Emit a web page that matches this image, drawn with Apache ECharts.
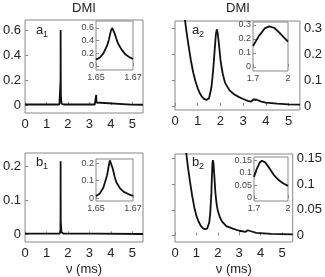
<!DOCTYPE html>
<html>
<head>
<meta charset="utf-8">
<script src="https://cdn.jsdelivr.net/npm/echarts@6/dist/echarts.min.js"></script>
<style>
    html, body { margin: 0; padding: 0; background: #fff; }
    #chart { width: 325px; height: 277px; }
</style>
</head>
<body>
<div id="chart"></div>
<script>
// 数据
var titles = ['DMI', 'DMI'];
var xTicks = [0, 1, 2, 3, 4, 5];
var xName = 'ν (ms)';

var a1Ticks = [0, 0.2, 0.4, 0.6];
var a2Ticks = [0, 0.1, 0.2, 0.3];
var b1Ticks = [0, 0.1, 0.2];
var b2Ticks = [0, 0.05, 0.1, 0.15];

var insetA1XTicks = [1.65, 1.67];
var insetA1YTicks = [0, 0.2, 0.4, 0.6];
var insetA2XTicks = [1.7, 2];
var insetA2YTicks = [0, 0.1, 0.2, 0.3];
var insetB1YTicks = [0, 0.1, 0.2];
var insetB2YTicks = [0, 0.05, 0.1, 0.15];

var a1Main = [[0, 0.004], [1.6, 0.004], [1.65, 0.02], [1.655, 0.2], [1.6587, 0.6], [1.663, 0.3], [1.67, 0.08],
    [1.7, 0.01], [1.8, 0.004], [3.25, 0.004], [3.3, 0.02], [3.317, 0.08], [3.33, 0.02], [3.38, 0.004],
    [4.94, 0.003], [4.975, 0.015], [5.0, 0.003], [5.5, 0.002]];
var b1Main = [[0, 0.002], [1.62, 0.002], [1.65, 0.012], [1.655, 0.06], [1.6575, 0.215], [1.66, 0.12],
    [1.665, 0.035], [1.7, 0.006], [1.8, 0.002], [3.3, 0.002], [3.32, 0.004], [3.34, 0.002], [5.5, 0.001]];
var a2Main = [[0.3, 0.5], [0.44, 0.33], [0.5, 0.29], [0.6, 0.23], [0.7, 0.175], [0.8, 0.13], [0.9, 0.095],
    [1.0, 0.068], [1.1, 0.048], [1.2, 0.034], [1.3, 0.026], [1.4, 0.024], [1.5, 0.03], [1.6, 0.07],
    [1.65, 0.11], [1.7, 0.16], [1.75, 0.22], [1.8, 0.275], [1.84, 0.295], [1.88, 0.28], [1.92, 0.25],
    [1.96, 0.215], [2.0, 0.18], [2.05, 0.15], [2.1, 0.125], [2.2, 0.09], [2.4, 0.06], [2.6, 0.045],
    [2.8, 0.035], [3.0, 0.027], [3.2, 0.02], [3.35, 0.017], [3.45, 0.025], [3.52, 0.028], [3.6, 0.024],
    [3.8, 0.017], [4.0, 0.013], [4.5, 0.009], [5.0, 0.006], [5.5, 0.005]];
var b2Main = [[0.4, 0.21], [0.5, 0.17], [0.6, 0.135], [0.7, 0.105], [0.8, 0.078], [0.9, 0.055], [1.0, 0.038],
    [1.1, 0.027], [1.2, 0.019], [1.3, 0.014], [1.4, 0.012], [1.5, 0.013], [1.6, 0.025], [1.65, 0.045],
    [1.7, 0.083], [1.72, 0.11], [1.75, 0.14], [1.77, 0.147], [1.8, 0.14], [1.84, 0.115], [1.88, 0.088],
    [1.92, 0.07], [1.96, 0.057], [2.0, 0.048], [2.1, 0.035], [2.2, 0.027], [2.4, 0.018], [2.7, 0.013],
    [3.0, 0.009], [3.3, 0.007], [3.4, 0.01], [3.45, 0.011], [3.55, 0.008], [3.8, 0.005], [4.5, 0.003], [5.5, 0.002]];

var a1Inset = [[1.65, 0.1], [1.652, 0.13], [1.654, 0.2], [1.656, 0.32], [1.657, 0.42], [1.658, 0.55],
    [1.6587, 0.6], [1.6595, 0.58], [1.66, 0.52], [1.661, 0.43], [1.662, 0.35], [1.664, 0.25],
    [1.666, 0.18], [1.668, 0.14], [1.67, 0.11]];
var a2Inset = [[1.7, 0.15], [1.75, 0.22], [1.8, 0.275], [1.84, 0.29], [1.88, 0.28], [1.92, 0.25],
    [1.96, 0.215], [2.0, 0.18]];
var b1Inset = [[1.65, 0.012], [1.652, 0.025], [1.654, 0.06], [1.656, 0.13], [1.657, 0.19], [1.6575, 0.215],
    [1.658, 0.21], [1.659, 0.17], [1.66, 0.125], [1.661, 0.09], [1.663, 0.055], [1.665, 0.035],
    [1.668, 0.02], [1.67, 0.013]];
var b2Inset = [[1.7, 0.083], [1.72, 0.11], [1.75, 0.14], [1.77, 0.147], [1.8, 0.14], [1.84, 0.115],
    [1.88, 0.088], [1.92, 0.07], [1.96, 0.057], [2.0, 0.048]];

var FONT = "'Liberation Sans', Arial, sans-serif";
var grids = [], xAxes = [], yAxes = [], series = [];

function fmt(v) {
    return String(+(+v).toFixed(3));
}

/**
 * 添加一个坐标系 + 曲线
 */
function addPanel(p) {
    var i = grids.length;
    var small = !!p.inset;
    var fs = small ? 9 : 13;
    var col = small ? '#444' : '#222';
    grids.push({
        left: p.box[0], top: p.box[1], width: p.box[2], height: p.box[3],
        show: true, borderColor: '#888', borderWidth: 1,
        backgroundColor: '#fff', z: small ? 5 : 0
    });
    xAxes.push({
        gridIndex: i, type: 'value', min: p.x[0], max: p.x[1], z: small ? 6 : 0,
        axisLine: {show: false}, splitLine: {show: false},
        axisTick: {inside: true, length: 3, lineStyle: {color: '#888'}, customValues: p.xTicks},
        axisLabel: {customValues: p.xTicks, fontSize: fs, color: col, fontFamily: FONT, margin: small ? 3 : 5, formatter: fmt},
        name: p.xName || '', nameLocation: 'middle', nameGap: 21,
        nameTextStyle: {fontSize: 13, color: '#222', fontFamily: FONT}
    });
    yAxes.push({
        gridIndex: i, type: 'value', min: p.y[0], max: p.y[1], position: p.right ? 'right' : 'left', z: small ? 6 : 0,
        axisLine: {show: false}, splitLine: {show: false},
        axisTick: {inside: true, length: 3, lineStyle: {color: '#888'}, customValues: p.yTicks},
        axisLabel: {customValues: p.yTicks, fontSize: fs, color: col, fontFamily: FONT, margin: small ? 2 : 4, formatter: fmt}
    });
    series.push({
        type: 'line', xAxisIndex: i, yAxisIndex: i, data: p.data, showSymbol: false,
        clip: true, z: small ? 7 : 2, silent: true,
        lineStyle: {color: '#111', width: small ? 1.8 : 1.8}
    });
}

addPanel({box: [21, 20, 122, 93], x: [0, 5.5], y: [-0.064, 0.68], xTicks: xTicks, yTicks: a1Ticks, data: a1Main});
addPanel({box: [175, 21, 125, 89], x: [0, 5.5], y: [-0.0154, 0.327], xTicks: xTicks, yTicks: a2Ticks, data: a2Main, right: true});
addPanel({box: [21, 153, 122, 93], x: [0, 5.5], y: [-0.0225, 0.239], xTicks: xTicks, yTicks: b1Ticks, data: b1Main, xName: xName});
addPanel({box: [175, 154, 125, 92], x: [0, 5.5], y: [-0.013, 0.159], xTicks: xTicks, yTicks: b2Ticks, data: b2Main, right: true, xName: xName});

addPanel({box: [96, 21, 37, 49], x: [1.65, 1.67], y: [-0.063, 0.71], xTicks: insetA1XTicks, yTicks: insetA1YTicks, data: a1Inset, inset: true});
addPanel({box: [253, 22, 35, 49], x: [1.7, 2], y: [-0.029, 0.321], xTicks: insetA2XTicks, yTicks: insetA2YTicks, data: a2Inset, inset: true});
addPanel({box: [96, 159, 37, 42], x: [1.65, 1.67], y: [-0.017, 0.223], xTicks: insetA1XTicks, yTicks: insetB1YTicks, data: b1Inset, inset: true});
addPanel({box: [254, 157, 34, 44], x: [1.7, 2], y: [-0.012, 0.162], xTicks: insetA2XTicks, yTicks: insetB2YTicks, data: b2Inset, inset: true});

// 标题和面板标记
function txt(x, y, s, size, align) {
    return {type: 'text', x: x, y: y, z: 10,
        style: {text: s, fontSize: size, fontFamily: FONT, fill: '#222', textAlign: align || 'left', textVerticalAlign: 'middle'}};
}
var graphics = [
    txt(84, 8, titles[0], 13, 'center'),
    txt(238, 8, titles[1], 13, 'center'),
    txt(36, 30, 'a', 13), txt(43, 35, '1', 9),
    txt(192, 30, 'a', 13), txt(199, 35, '2', 9),
    txt(36, 162, 'b', 13), txt(43, 167, '1', 9),
    txt(192, 162, 'b', 13), txt(199, 167, '2', 9)
];

var myChart = echarts.init(document.getElementById('chart'), null, {renderer: 'canvas'});
myChart.setOption({
    animation: false,
    backgroundColor: '#fff',
    grid: grids,
    xAxis: xAxes,
    yAxis: yAxes,
    series: series,
    graphic: graphics
});
</script>
</body>
</html>
